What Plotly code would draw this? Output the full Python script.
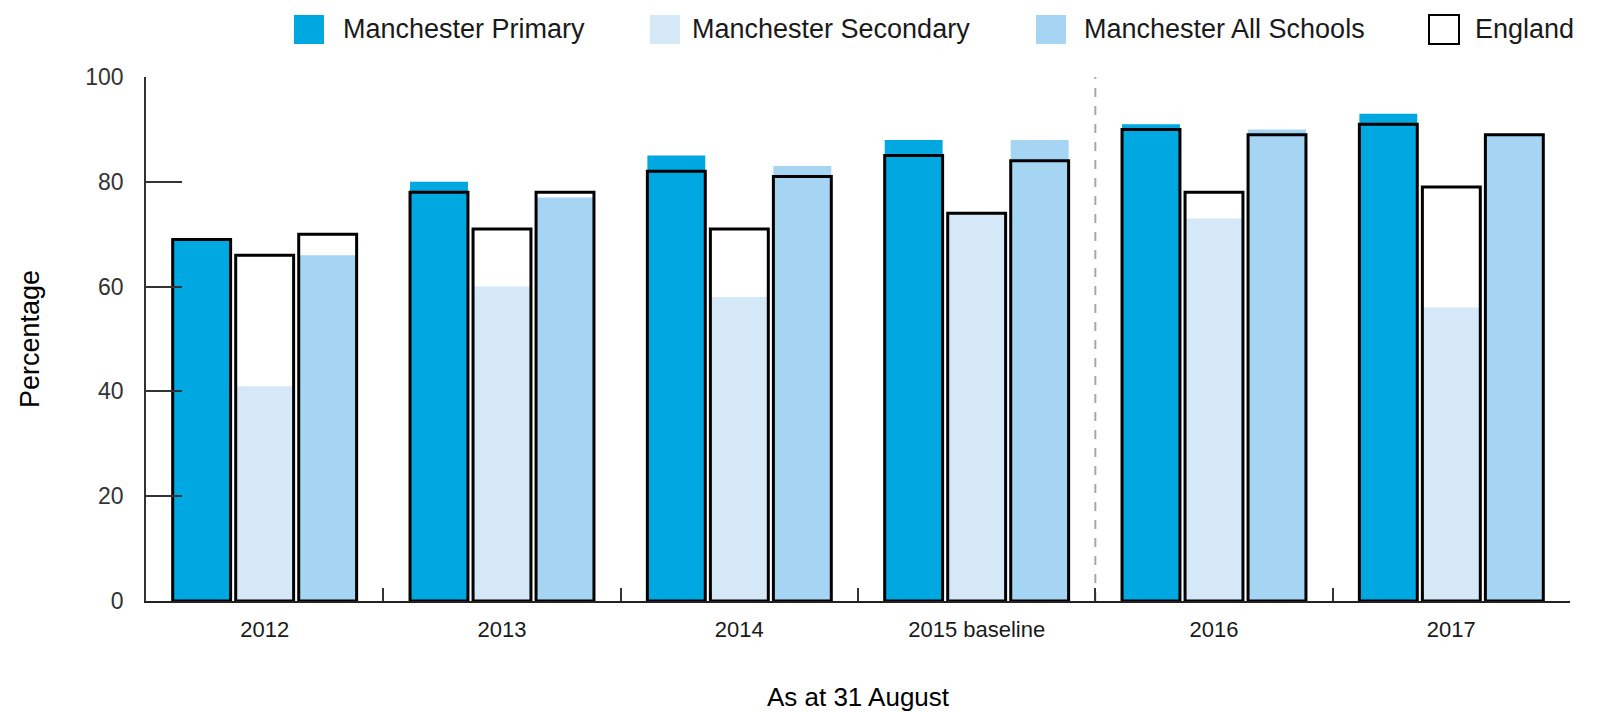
import plotly.graph_objects as go

# Data (percentages, as at 31 August)
years = ["2012", "2013", "2014", "2015 baseline", "2016", "2017"]
manchester_primary = [69, 80, 85, 88, 91, 93]
manchester_secondary = [41, 60, 58, 74, 73, 56]
manchester_all = [66, 77, 83, 88, 90, 89]
england_primary = [69, 78, 82, 85, 90, 91]
england_secondary = [66, 71, 71, 74, 78, 79]
england_all = [70, 78, 81, 84, 89, 89]

series_names = ["Manchester Primary", "Manchester Secondary", "Manchester All Schools", "England"]
colors = ["#00A8E2", "#D4E8F8", "#A5D5F3"]

FONT = "Liberation Sans, Arial, sans-serif"
TEXT = "#1a1a1a"

# Bar geometry in category units
BAR_W = 0.244
PITCH = 0.2655
offsets = [-PITCH - BAR_W / 2, -BAR_W / 2, PITCH - BAR_W / 2]

fig = go.Figure()

manchester = [manchester_primary, manchester_secondary, manchester_all]
england = [england_primary, england_secondary, england_all]

for vals, col, off, name in zip(manchester, colors, offsets, series_names[:3]):
    fig.add_trace(go.Bar(
        x=years, y=vals, name=name, width=BAR_W, offset=off,
        marker=dict(color=col, line=dict(width=0)),
        showlegend=False,
    ))

# England comparison drawn as outlined boxes over each Manchester bar
for vals, off in zip(england, offsets):
    fig.add_trace(go.Bar(
        x=years, y=vals, name="England", width=BAR_W, offset=off,
        marker=dict(color="rgba(0,0,0,0)", line=dict(color="#000000", width=3)),
        showlegend=False,
    ))

# Plot-area geometry (pixels)
W, H = 1602, 712
L, R, T, B = 146, 32, 77, 111
PW, PH = W - L - R, H - T - B


def px_x(x):
    return (x - L) / PW


def px_y(y):
    return (H - B - y) / PH


# Legend row: filled squares plus labels
legend_items = [
    (294, 341, colors[0], None, series_names[0]),
    (650, 690, colors[1], None, series_names[1]),
    (1036, 1082, colors[2], None, series_names[2]),
    (1429, 1473, "#ffffff", "#000000", series_names[3]),
]
for sq_x, txt_x, fill, edge, label in legend_items:
    fig.add_shape(
        type="rect", xref="paper", yref="paper",
        x0=px_x(sq_x), x1=px_x(sq_x + 30), y0=px_y(44), y1=px_y(15),
        fillcolor=fill,
        line=dict(color=edge if edge else fill, width=2 if edge else 0),
    )
    fig.add_annotation(
        xref="paper", yref="paper", x=px_x(txt_x), y=px_y(29),
        text=label, showarrow=False, xanchor="left", yanchor="middle",
        font=dict(family=FONT, size=27, color=TEXT),
    )

# Dashed divider between the baseline year and later years
fig.add_shape(
    type="line", xref="x", yref="y", x0=3.5, x1=3.5, y0=0, y1=100.5,
    line=dict(color="#A8A8A8", width=2, dash="dash"),
    layer="below",
)

fig.update_layout(
    width=W, height=H,
    margin=dict(l=L, r=R, t=T, b=B, autoexpand=False),
    barmode="overlay",
    plot_bgcolor="#ffffff", paper_bgcolor="#ffffff",
    font=dict(family=FONT, color=TEXT),
    showlegend=False,
)

fig.update_xaxes(
    type="category",
    showline=True, linecolor="#222222", linewidth=2,
    ticks="inside", tickson="boundaries", ticklen=13, tickcolor="#333333", tickwidth=1.5,
    showgrid=False, zeroline=False,
    tickfont=dict(family=FONT, size=22, color=TEXT),
    ticklabelstandoff=8,
    title=dict(text="As at 31 August", font=dict(family=FONT, size=26, color="#000000"), standoff=48),
    automargin=False,
)

fig.update_yaxes(
    range=[0, 100],
    tickvals=[0, 20, 40, 60, 80, 100],
    showline=True, linecolor="#333333", linewidth=1.5,
    ticks="inside", ticklen=36, tickcolor="#333333", tickwidth=1.5,
    showgrid=False, zeroline=False,
    tickfont=dict(family=FONT, size=23, color="#333333"),
    ticklabelstandoff=16,
    title=dict(text="Percentage", font=dict(family=FONT, size=27, color="#000000"), standoff=38),
    automargin=False,
)

fig.write_html("out.html")
